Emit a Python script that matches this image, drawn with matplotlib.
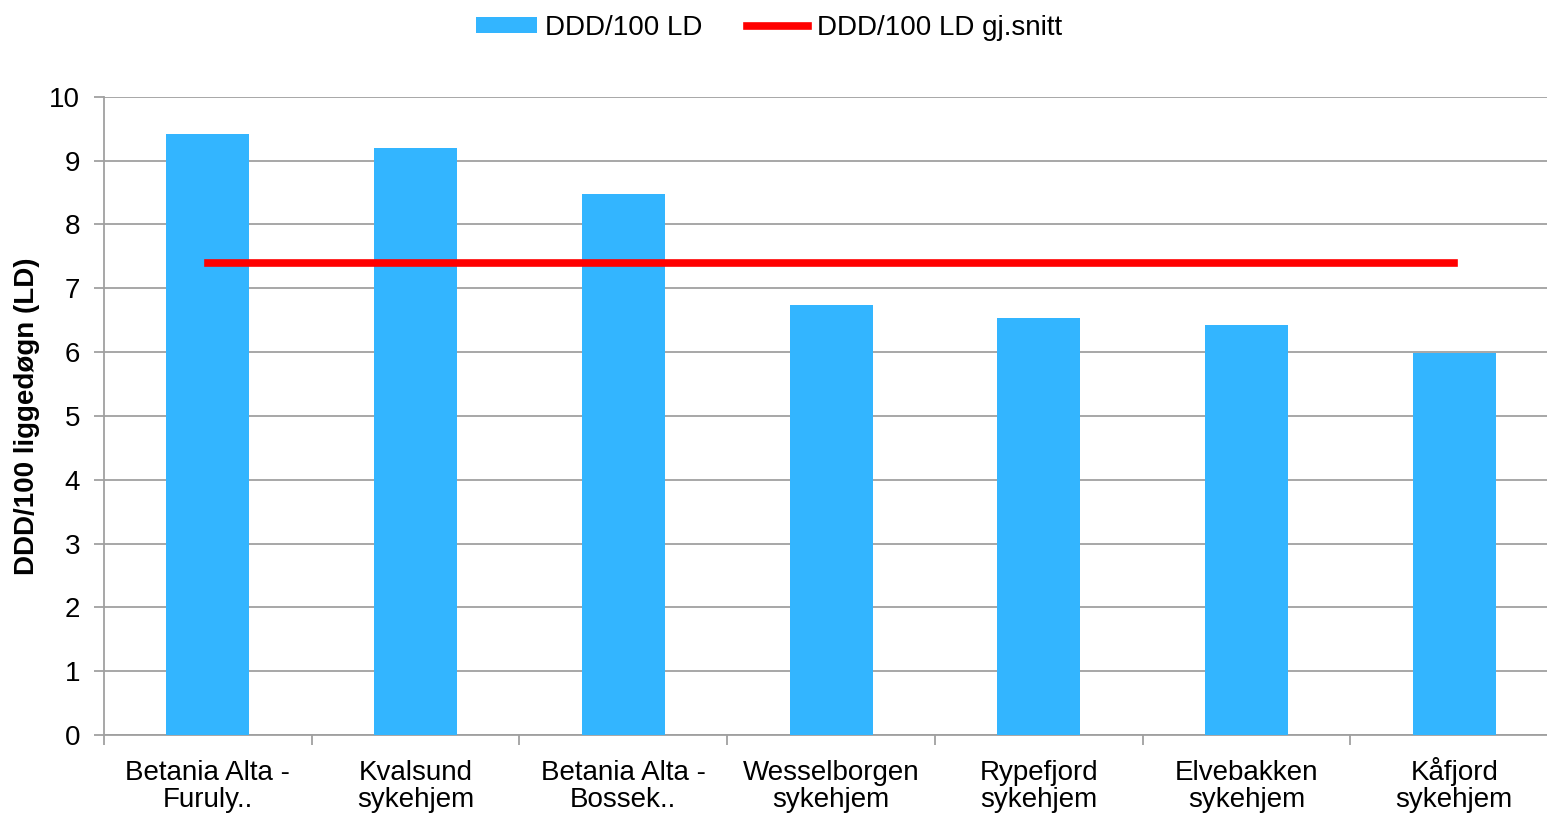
import numpy as np
import matplotlib
matplotlib.use("Agg")
import matplotlib.pyplot as plt

plt.rcParams['font.family'] = ['Liberation Sans', 'DejaVu Sans']

categories = ["Betania Alta -\nFuruly..", "Kvalsund\nsykehjem", "Betania Alta -\nBossek..",
              "Wesselborgen\nsykehjem", "Rypefjord\nsykehjem", "Elvebakken\nsykehjem",
              "Kåfjord\nsykehjem"]
ddd = [9.42, 9.2, 8.48, 6.74, 6.54, 6.43, 5.99]
snitt = 7.40

blue = '#33B5FF'
grid_col = '#A0A0A0'
fs = 20

fig = plt.figure(figsize=(15.47, 8.15), dpi=100)
# axes runs slightly past the right edge, like in the original
ax = fig.add_axes([0.0672, 0.0982, 0.940, 0.783])

x = np.arange(len(categories))
ax.bar(x, ddd, width=0.40, color=blue, zorder=3, label='DDD/100 LD')
ax.plot([x[0], x[-1]], [snitt, snitt], color='#FF0000', lw=5.5, zorder=4,
        solid_capstyle='projecting', label='DDD/100 LD gj.snitt')

ax.set_xlim(-0.5, len(categories) - 0.5)
ax.set_ylim(0, 10)
ax.set_yticks(range(0, 11))
ax.yaxis.grid(True, color=grid_col, lw=1.3, zorder=0)
ax.set_axisbelow(True)

ax.set_xticks(x)
ax.set_xticklabels(categories, fontsize=fs, linespacing=1.08)
for lab in ax.get_xticklabels():
    lab.set_verticalalignment('baseline')
ax.set_xticks(np.arange(-0.5, len(categories), 1.0), minor=True)
ax.tick_params(axis='x', which='major', length=0, pad=52)
ax.tick_params(axis='x', which='minor', length=7, color=grid_col, width=1.3)
ax.tick_params(axis='y', length=7, color=grid_col, width=1.3, labelsize=fs, pad=10)

for s in ['top', 'right']:
    ax.spines[s].set_visible(False)
for s in ['left', 'bottom']:
    ax.spines[s].set_color(grid_col)
    ax.spines[s].set_linewidth(1.3)

ax.set_ylabel('DDD/100 liggedøgn (LD)', fontsize=fs, fontweight='bold')
ax.yaxis.set_label_coords(-0.044, 0.5)

h, l = ax.get_legend_handles_labels()
order = [l.index('DDD/100 LD'), l.index('DDD/100 LD gj.snitt')]
fig.legend([h[i] for i in order], [l[i] for i in order],
           loc='upper center', bbox_to_anchor=(0.497, 1.012), ncol=2, frameon=False,
           fontsize=fs, handlelength=2.2, handleheight=0.5, handletextpad=0.3,
           columnspacing=1.6)

fig.savefig('out.png', dpi=100)
